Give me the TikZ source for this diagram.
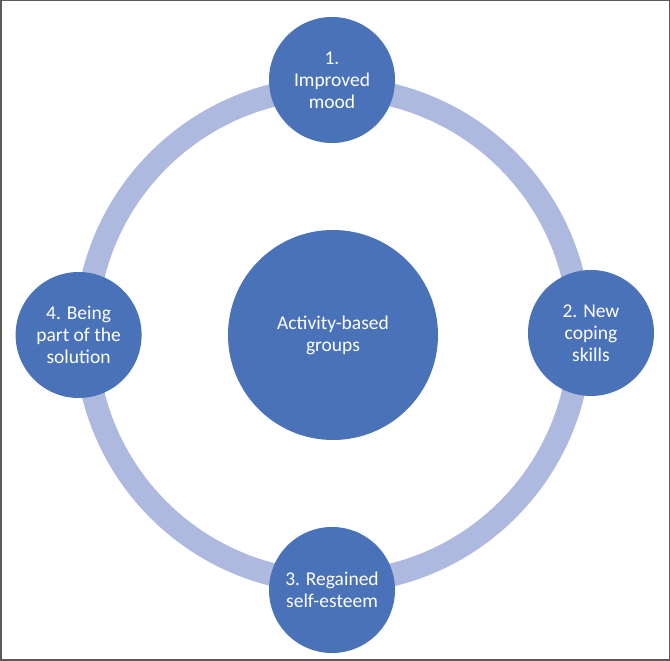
\documentclass[tikz,border=0pt]{standalone}
\usepackage{fontspec}
\setmainfont{Carlito}
\usepackage{tikz}
\definecolor{circleblue}{RGB}{74, 114, 184}
\definecolor{ringblue}{RGB}{173, 185, 222}
\definecolor{framegray}{RGB}{90, 90, 90}

\begin{document}
\begin{tikzpicture}[x=1pt, y=1pt,
  ring/.style={ringblue, line width=23pt},
  bubble/.style={circle, fill=circleblue, text=white, align=center,
    inner sep=0pt, font=\fontsize{19.5}{22}\selectfont},
  small/.style={bubble, minimum size=126pt},
  big/.style={bubble, minimum size=210pt}]

  % --- Frame ---
  \useasboundingbox (0, 0) rectangle (670, 661);
  \draw[framegray, line width=1.5pt] (0.75, 0.75) rectangle (669.25, 660.25);

  % --- Centre and ring ---
  \node[big] (groups) at (333, 326) {Activity-based\\groups};
  \draw[ring] (groups.center) circle (247);

  % --- Outer steps ---
  \node[small] (mood)     at (332, 581)  {1.\\Improved\\mood};
  \node[small] (coping)   at (591, 328)  {2. New\\coping\\skills};
  \node[small] (esteem)   at (332, 71)   {3. Regained\\self-esteem};
  \node[small] (solution) at (78.6, 326) {4. Being\\part of the\\solution};

\end{tikzpicture}
\end{document}
